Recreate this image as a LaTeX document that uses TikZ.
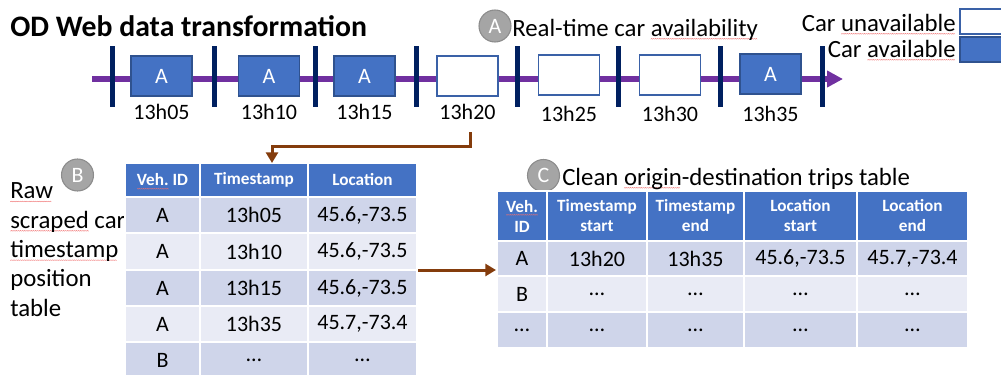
\documentclass[tikz,border=0pt]{standalone}
\usepackage{fontspec}
\setmainfont{Carlito}
\usetikzlibrary{arrows.meta}

\definecolor{boxblue}{HTML}{4472C4}
\definecolor{boxedge}{HTML}{2F528F}
\definecolor{axispurple}{HTML}{7030A0}
\definecolor{ticknavy}{HTML}{002060}
\definecolor{badgegray}{HTML}{A5A5A5}
\definecolor{badgeedge}{HTML}{8C8C8C}
\definecolor{rowdark}{HTML}{CFD5EA}
\definecolor{rowlight}{HTML}{E9EBF5}
\definecolor{flowbrown}{HTML}{843C0C}
\definecolor{spellred}{HTML}{F07070}

% wavy red underline under flagged words
\newsavebox\wavebox
\newsavebox\sqword
\sbox\wavebox{\tikz[x=1pt,y=1pt]{\useasboundingbox (0,0) rectangle (1.4,0.6);
  \draw[spellred,line width=0.25pt] (0,0) -- (0.7,0.6) -- (1.4,0);}}
\newcommand\sq[1]{\sbox\sqword{#1}%
  \rlap{\raisebox{-2.4pt}[0pt][0pt]{\leaders\copy\wavebox\hskip\wd\sqword}}\usebox\sqword}

% table cell: name, x0, y0, x1, y1, style, text  (coordinates in px)
\newcommand\tcell[7]{%
  \node[#6, minimum width={(#4-#2)*0.75pt}, minimum height={(#5-#3)*0.75pt}]
    (#1) at ({(#2+#4)/2},{(#3+#5)/2}) {#7};}

\newcommand\cellfont{\fontsize{16.5}{19.5}\selectfont}
\newcommand\capfont{\fontsize{18.6}{22}\selectfont}

\tikzset{
  car/.style={draw=boxedge, fill=boxblue, line width=1pt, minimum width=45.75pt,
    minimum height=30pt, inner sep=0pt, text=white, font=\cellfont},
  nocar/.style={car, draw=boxblue!85!black, fill=white},
  tickbar/.style={draw=ticknavy, line width=3.75pt},
  stamp/.style={anchor=base, inner sep=0pt, font=\cellfont},
  badge/.style={circle, fill=badgegray, draw=badgeedge, line width=0.8pt,
    minimum size=24pt, inner sep=0pt, text=white, font=\cellfont},
  heading/.style={anchor=base west, inner sep=0pt, font=\capfont},
  cellbox/.style={draw=white, line width=1.5pt, inner sep=0pt, font=\cellfont},
  dark/.style={cellbox, fill=rowdark},
  light/.style={cellbox, fill=rowlight},
  head/.style={cellbox, fill=boxblue, text=white, align=center,
    font=\fontsize{12.9}{15}\selectfont\bfseries},
  flowarrow/.style={draw=flowbrown, line width=2.25pt, -{Triangle[length=8pt,width=9pt]}},
}

\begin{document}
\begin{tikzpicture}[x=0.75pt, y=-0.75pt]
\useasboundingbox (0,0) rectangle (1001,375);
\clip (0,0) rectangle (1001,375);

% title
\node[anchor=base west, inner sep=0pt, font=\fontsize{22.3}{26}\selectfont\bfseries]
  (title) at (10,36.5) {OD Web data transformation};

% timeline axis
\coordinate (axisL) at (92,79);
\coordinate (axisR) at (843,79);
\draw[draw=axispurple, line width=3.8pt, -{Triangle[length=12pt,width=12pt]}] (axisL) -- (axisR);

% time slot separators
\foreach \x/\n in {112/1,214/2,315/3,416/4,517/5,618/6,720/7,822/8}{
  \coordinate (tt\n) at (\x,46);
  \coordinate (tb\n) at (\x,107);
  \draw[tickbar] (tt\n) -- (tb\n);
}

% availability slots
\node[car]   (slot1) at (161.5,76) {A};
\node[car]   (slot2) at (269,76)   {A};
\node[car]   (slot3) at (364.5,76) {A};
\node[nocar] (slot4) at (467.5,76) {};
\node[nocar] (slot5) at (569,75)   {};
\node[nocar] (slot6) at (670,75)   {};
\node[car]   (slot7) at (770.5,74) {A};

\node[stamp] (time1) at (161.5,119.5) {13h05};
\node[stamp] (time2) at (269,119.5)   {13h10};
\node[stamp] (time3) at (364.5,119.5) {13h15};
\node[stamp] (time4) at (467.5,119.5) {13h20};
\node[stamp] (time5) at (569,121.5)   {13h25};
\node[stamp] (time6) at (670,121.5)   {13h30};
\node[stamp] (time7) at (770.5,121.5) {13h35};

% section A heading
\node[badge] (badgeA) at (495,26) {A};
\node[heading] (headA) at (512,36) {Real-time car \sq{availability}};

% legend
\node[anchor=base east, inner sep=0pt, font=\capfont]
  (keyoffText) at (956,31) {Car \sq{unavailable}};
\node[anchor=base east, inner sep=0pt, font=\capfont]
  (keyonText) at (956,57) {Car \sq{available}};
\tcell{keyoff}{960}{9}{1042}{34}{nocar}{}
\tcell{keyon}{960}{37}{1042}{62}{car}{}

% section B heading
\node[badge] (badgeB) at (77.5,175) {B};
\node[anchor=north west, inner sep=0pt, align=left, font=\capfont]
  (headB) at (10,182.5) {\sq{Raw}\\\sq{scraped} car\\\sq{timestamp}\\position\\table};

% raw scraped table
\tcell{bh1}{125}{163}{200}{197}{head}{\sq{Veh.} ID}
\tcell{bh2}{200}{163}{308}{197}{head}{Timestamp}
\tcell{bh3}{308}{163}{417}{197}{head}{Location}

\tcell{b11}{125}{197}{200}{233}{dark}{A}
\tcell{b12}{200}{197}{308}{233}{dark}{13h05}
\tcell{b13}{308}{197}{417}{233}{dark}{45.6,-73.5}
\tcell{b21}{125}{233}{200}{270}{light}{A}
\tcell{b22}{200}{233}{308}{270}{light}{13h10}
\tcell{b23}{308}{233}{417}{270}{light}{45.6,-73.5}
\tcell{b31}{125}{270}{200}{306}{dark}{A}
\tcell{b32}{200}{270}{308}{306}{dark}{13h15}
\tcell{b33}{308}{270}{417}{306}{dark}{45.6,-73.5}
\tcell{b41}{125}{306}{200}{342}{light}{A}
\tcell{b42}{200}{306}{308}{342}{light}{13h35}
\tcell{b43}{308}{306}{417}{342}{light}{45.7,-73.4}
\tcell{b51}{125}{342}{200}{379}{dark}{B}
\tcell{b52}{200}{342}{308}{379}{dark}{…}
\tcell{b53}{308}{342}{417}{379}{dark}{…}

% section C heading
\node[badge] (badgeC) at (543.5,175.5) {C};
\node[heading] (headC) at (562,185) {Clean \sq{origin}-destination trips table};

% clean trips table
\tcell{ch1}{497}{191}{547}{241}{head}{\sq{Veh.}\\ID}
\tcell{ch2}{547}{191}{647}{241}{head}{Timestamp\\start}
\tcell{ch3}{647}{191}{744}{241}{head}{Timestamp\\end}
\tcell{ch4}{744}{191}{857}{241}{head}{Location\\start}
\tcell{ch5}{857}{191}{968}{241}{head}{Location\\end}

\tcell{c11}{497}{241}{547}{276}{dark}{A}
\tcell{c12}{547}{241}{647}{276}{dark}{13h20}
\tcell{c13}{647}{241}{744}{276}{dark}{13h35}
\tcell{c14}{744}{241}{857}{276}{dark}{45.6,-73.5}
\tcell{c15}{857}{241}{968}{276}{dark}{45.7,-73.4}
\tcell{c21}{497}{276}{547}{312}{light}{B}
\tcell{c22}{547}{276}{647}{312}{light}{…}
\tcell{c23}{647}{276}{744}{312}{light}{…}
\tcell{c24}{744}{276}{857}{312}{light}{…}
\tcell{c25}{857}{276}{968}{312}{light}{…}
\tcell{c31}{497}{312}{547}{348}{dark}{…}
\tcell{c32}{547}{312}{647}{348}{dark}{…}
\tcell{c33}{647}{312}{744}{348}{dark}{…}
\tcell{c34}{744}{312}{857}{348}{dark}{…}
\tcell{c35}{857}{312}{968}{348}{dark}{…}

% data flow arrows
\coordinate (fromA) at (470,132);
\coordinate (bend) at (470,146);
\coordinate (intoB) at (272,163);
\draw[flowarrow] (fromA) -- (bend) -| (intoB);

\coordinate (fromB) at (418,270);
\draw[flowarrow] (fromB) -- (ch1.west |- fromB);
\end{tikzpicture}
\end{document}
